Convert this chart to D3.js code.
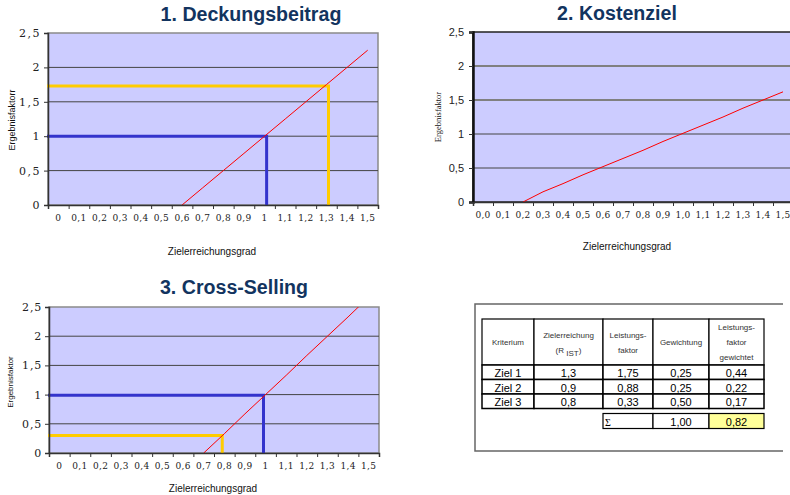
<!DOCTYPE html>
<html>
<head>
<meta charset="utf-8">
<script src="https://cdn.jsdelivr.net/npm/d3@7"></script>
<style>
  body { margin: 0; background: #fff; }
  svg { display: block; }
</style>
</head>
<body>
<div id="chart"></div>
<script>
// Zielerreichungsgrad categories
const xValues = [0, 0.1, 0.2, 0.3, 0.4, 0.5, 0.6, 0.7, 0.8, 0.9, 1.0, 1.1, 1.2, 1.3, 1.4, 1.5];
const xLabelsShort = ["0", "0,1", "0,2", "0,3", "0,4", "0,5", "0,6", "0,7", "0,8", "0,9", "1", "1,1", "1,2", "1,3", "1,4", "1,5"];
const xLabelsFixed = ["0,0", "0,1", "0,2", "0,3", "0,4", "0,5", "0,6", "0,7", "0,8", "0,9", "1,0", "1,1", "1,2", "1,3", "1,4", "1,5"];
const yTicks = [0, 0.5, 1, 1.5, 2, 2.5];

// Ergebnisfaktor series (null = no point)
const deckungsbeitrag = [null, null, null, null, null, null, 0, 0.25, 0.5, 0.75, 1.0, 1.25, 1.5, 1.75, 2.0, 2.25];
const kostenziel = [null, null, 0, 0.15, 0.27, 0.40, 0.52, 0.64, 0.76, 0.89, 1.01, 1.13, 1.25, 1.38, 1.50, 1.62];
const crossSelling = [null, null, null, null, null, null, null, 0, 0.33, 0.67, 1.0, 1.33, 1.67, 2.0, 2.33, 2.67];

// reading guides (x = Zielerreichung, y = Ergebnisfaktor)
const guidesDeckung = [{ x: 1.01, y: 1.0, kind: "blue" }, { x: 1.31, y: 1.73, kind: "yellow" }];
const guidesCross = [{ x: 0.99, y: 0.99, kind: "blue" }, { x: 0.79, y: 0.3, kind: "yellow" }];

// summary table
const tableHead = [["Kriterium"], ["Zielerreichung", "(R IST)"], ["Leistungs-", "faktor"], ["Gewichtung"], ["Leistungs-", "faktor", "gewichtet"]];
const tableRows = [
    ["Ziel 1", "1,3", "1,75", "0,25", "0,44"],
    ["Ziel 2", "0,9", "0,88", "0,25", "0,22"],
    ["Ziel 3", "0,8", "0,33", "0,50", "0,17"]
];
const tableSum = ["Σ", "1,00", "0,82"];

const guideColors = { blue: "#3333cc", yellow: "#ffcc00" };

const svg = d3.select("#chart")
    .append("svg")
    .attr("width", 790)
    .attr("height", 495);

const defs = svg.append("defs");

function drawChart(cfg) {
    const xLin = d3.scaleLinear()
        .domain([-0.05, 1.55])
        .range([cfg.left, cfg.right]);
    const xBand = d3.scaleBand()
        .domain(cfg.labels)
        .range([cfg.left, cfg.right]);
    const y = d3.scaleLinear()
        .domain([0, 2.5])
        .range([cfg.bottom, cfg.top]);

    const g = svg.append("g");

    // plot area
    g.append("rect")
        .attr("x", cfg.left)
        .attr("y", cfg.top)
        .attr("width", cfg.right - cfg.left)
        .attr("height", cfg.bottom - cfg.top)
        .attr("fill", "#ccccff")
        .attr("stroke", cfg.frame)
        .attr("stroke-width", 1.5);

    // gridlines
    g.selectAll(".grid")
        .data(yTicks.slice(1, -1))
        .enter().append("line")
        .attr("x1", cfg.left)
        .attr("x2", cfg.right)
        .attr("y1", d => y(d))
        .attr("y2", d => y(d))
        .attr("stroke", d => cfg.gridGrey.includes(d) ? "#808080" : "#444")
        .attr("stroke-width", d => cfg.gridGrey.includes(d) ? 2 : 1);

    // clip for lines
    const clipId = "clip" + cfg.id;
    defs.append("clipPath").attr("id", clipId)
        .append("rect")
        .attr("x", cfg.left - 3)
        .attr("y", cfg.top)
        .attr("width", cfg.right - cfg.left + 3)
        .attr("height", cfg.bottom - cfg.top + 2);

    const plot = g.append("g").attr("clip-path", `url(#${clipId})`);

    // guides
    (cfg.guides || []).forEach(gd => {
        plot.append("path")
            .attr("d", `M${cfg.left - 1},${y(gd.y)}H${xLin(gd.x)}V${y(0)}`)
            .attr("fill", "none")
            .attr("stroke", guideColors[gd.kind])
            .attr("stroke-width", 3);
    });

    // series line
    const pts = xValues.map((v, i) => ({ x: v, y: cfg.series[i] }));
    const line = d3.line()
        .defined(d => d.y != null)
        .x(d => xLin(d.x))
        .y(d => y(d.y));
    plot.append("path")
        .datum(pts)
        .attr("d", line)
        .attr("fill", "none")
        .attr("stroke", "#ff0000")
        .attr("stroke-width", 1);

    // y axis
    const yAxis = g.append("g")
        .attr("transform", `translate(${cfg.left},0)`)
        .call(d3.axisLeft(y).tickValues(yTicks).tickSize(4).tickPadding(cfg.yPad)
            .tickFormat(d => String(d).replace(".", ",")));
    yAxis.select(".domain").attr("stroke", cfg.axisColor).attr("stroke-width", cfg.axisWidth);
    yAxis.selectAll(".tick line").attr("stroke", "#333");
    yAxis.selectAll("text")
        .attr("fill", "#222")
        .style("font-family", cfg.yFont)
        .style("font-size", cfg.yFontSize + "px")
        .style("letter-spacing", cfg.yLetter + "px");

    // x axis: tick marks at category boundaries
    const bounds = xValues.map(v => v - 0.05).concat([1.55]);
    const xAxis = g.append("g")
        .attr("transform", `translate(0,${cfg.bottom})`)
        .call(d3.axisBottom(xLin).tickValues(bounds).tickSize(4).tickFormat(""));
    xAxis.select(".domain").attr("stroke", "#333").attr("stroke-width", 1.5);
    xAxis.selectAll(".tick line").attr("stroke", "#333");

    // x axis labels centred in categories
    const xLab = g.append("g")
        .attr("transform", `translate(0,${cfg.bottom})`)
        .call(d3.axisBottom(xBand).tickSize(0).tickPadding(10));
    xLab.select(".domain").remove();
    xLab.selectAll("text")
        .attr("fill", "#222")
        .style("font-family", "DejaVu Serif")
        .style("font-size", "9px")
        .style("letter-spacing", "0.3px");

    // title
    svg.append("text")
        .attr("x", cfg.titleX)
        .attr("y", cfg.titleY)
        .attr("text-anchor", "middle")
        .attr("fill", "#12345f")
        .style("font-family", "Liberation Sans, Arial, sans-serif")
        .style("font-weight", "bold")
        .style("font-size", "19.6px")
        .text(cfg.title);

    // x axis title
    svg.append("text")
        .attr("x", cfg.xTitleX)
        .attr("y", cfg.xTitleY)
        .attr("text-anchor", "middle")
        .attr("fill", "#111")
        .style("font-family", "Liberation Sans, Arial, sans-serif")
        .style("font-size", "10px")
        .text("Zielerreichungsgrad");

    // y axis title
    svg.append("text")
        .attr("transform", `translate(${cfg.yTitleX},${cfg.yTitleY}) rotate(-90)`)
        .attr("text-anchor", "middle")
        .attr("fill", "#111")
        .style("font-family", cfg.yTitleFont)
        .style("font-size", cfg.yTitleSize + "px")
        .text(cfg.yTitle);
}

drawChart({
    id: 1, left: 48, right: 378, top: 33, bottom: 205,
    labels: xLabelsShort, series: deckungsbeitrag, guides: guidesDeckung,
    frame: "#8a8a8a", gridGrey: [], axisColor: "#333", axisWidth: 1.5,
    yFont: "DejaVu Serif", yFontSize: 11, yLetter: 1.5, yPad: 3,
    title: "1. Deckungsbeitrag", titleX: 251, titleY: 21,
    xTitleX: 212, xTitleY: 255,
    yTitle: "Ergebnisfaktorr", yTitleX: 15, yTitleY: 120, yTitleFont: "Liberation Sans, Arial, sans-serif", yTitleSize: 9
});

drawChart({
    id: 2, left: 473, right: 793, top: 32, bottom: 202,
    labels: xLabelsFixed, series: kostenziel, guides: [],
    frame: "#222", gridGrey: [1.5, 2], axisColor: "#111", axisWidth: 2.5,
    yFont: "Liberation Sans, Arial, sans-serif", yFontSize: 11, yLetter: 0, yPad: 5,
    title: "2. Kostenziel", titleX: 617, titleY: 20,
    xTitleX: 627, xTitleY: 250,
    yTitle: "Ergebnisfaktor", yTitleX: 441, yTitleY: 117, yTitleFont: "Liberation Serif, serif", yTitleSize: 8.5
});

drawChart({
    id: 3, left: 49, right: 379, top: 307, bottom: 453,
    labels: xLabelsShort, series: crossSelling, guides: guidesCross,
    frame: "#8a8a8a", gridGrey: [], axisColor: "#333", axisWidth: 1.5,
    yFont: "DejaVu Serif", yFontSize: 11, yLetter: 0.8, yPad: 3,
    title: "3. Cross-Selling", titleX: 234, titleY: 294,
    xTitleX: 213, xTitleY: 492,
    yTitle: "Ergebnisfaktor", yTitleX: 13, yTitleY: 382, yTitleFont: "Liberation Sans, Arial, sans-serif", yTitleSize: 8
});

// ---- table ----
const colEdges = [482, 534, 603, 653, 709, 764];
const headTop = 319, headBottom = 365, rowH = 14.5;
const tbl = svg.append("g");
const sans = "Liberation Sans, Arial, sans-serif";

// outer frame (top, left, bottom)
tbl.append("path")
    .attr("d", "M783,304H475V451H783")
    .attr("fill", "none")
    .attr("stroke", "#666")
    .attr("stroke-width", 1.5);

const rowY = d3.scaleLinear().domain([0, 1]).range([headBottom, headBottom + rowH]);

// header cells
tableHead.forEach((lines, c) => {
    tbl.append("rect")
        .attr("x", colEdges[c]).attr("y", headTop)
        .attr("width", colEdges[c + 1] - colEdges[c]).attr("height", headBottom - headTop)
        .attr("fill", "#fff").attr("stroke", "#000").attr("stroke-width", 1.2);
    const cx = (colEdges[c] + colEdges[c + 1]) / 2;
    const mid = (headTop + headBottom) / 2 + 3;
    lines.forEach((t, k) => {
        const ty = mid + (k - (lines.length - 1) / 2) * 15;
        const txt = tbl.append("text")
            .attr("x", cx).attr("y", ty)
            .attr("text-anchor", "middle")
            .attr("fill", "#333")
            .style("font-family", sans)
            .style("font-size", "8px");
        if (t === "(R IST)") {
            txt.append("tspan").text("(R ");
            txt.append("tspan").attr("dy", 3).text("IST");
            txt.append("tspan").attr("dy", -3).text(")");
        } else {
            txt.text(t);
        }
    });
});

// data rows
tableRows.forEach((row, r) => {
    row.forEach((val, c) => {
        tbl.append("rect")
            .attr("x", colEdges[c]).attr("y", rowY(r))
            .attr("width", colEdges[c + 1] - colEdges[c]).attr("height", rowH)
            .attr("fill", "#fff").attr("stroke", "#000").attr("stroke-width", 1.5);
        tbl.append("text")
            .attr("x", (colEdges[c] + colEdges[c + 1]) / 2)
            .attr("y", rowY(r) + rowH - 2.5)
            .attr("text-anchor", "middle")
            .attr("fill", "#000")
            .style("font-family", sans)
            .style("font-size", "11px")
            .text(val);
    });
});

// sum row
const sumTop = rowY(tableRows.length) + 5;
tableSum.forEach((val, k) => {
    const c = k + 2;
    tbl.append("rect")
        .attr("x", colEdges[c]).attr("y", sumTop)
        .attr("width", colEdges[c + 1] - colEdges[c]).attr("height", 15)
        .attr("fill", k === 2 ? "#ffff99" : "#fff")
        .attr("stroke", "#000").attr("stroke-width", 1.2);
    tbl.append("text")
        .attr("x", k === 0 ? colEdges[c] + 2 : (colEdges[c] + colEdges[c + 1]) / 2)
        .attr("y", sumTop + 12)
        .attr("text-anchor", k === 0 ? "start" : "middle")
        .attr("fill", "#000")
        .style("font-family", k === 0 ? "Liberation Serif, serif" : sans)
        .style("font-size", k === 0 ? "10px" : "11px")
        .text(val);
});
</script>
</body>
</html>
